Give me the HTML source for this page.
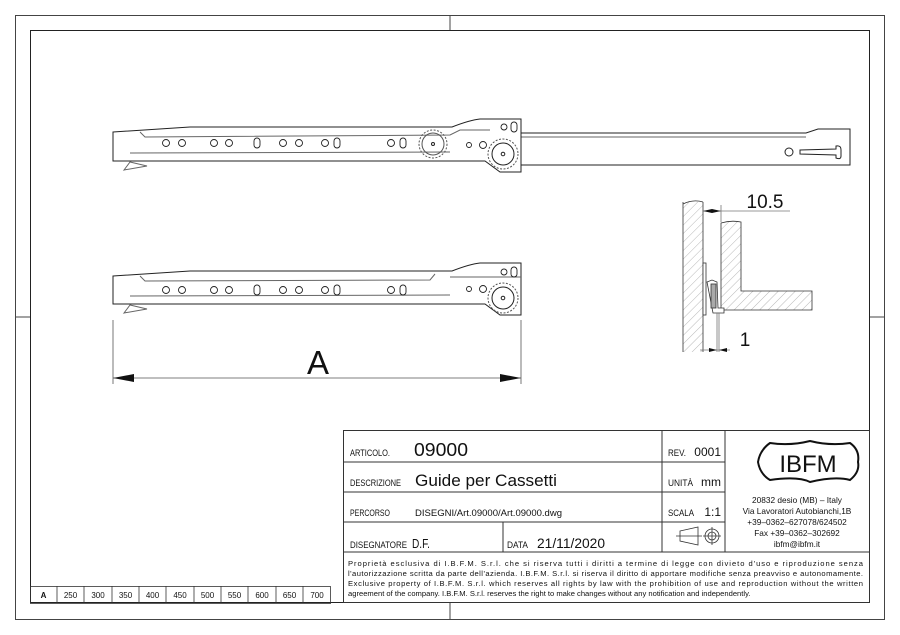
<!DOCTYPE html>
<html><head><meta charset="utf-8"><style>
html,body{margin:0;padding:0;background:#fff;}
svg{display:block;}
text{font-family:"Liberation Sans",sans-serif;fill:#111;}
</style></head><body>
<svg width="900" height="635" viewBox="0 0 900 635" xmlns="http://www.w3.org/2000/svg">
<defs>
<pattern id="h" width="6" height="6" patternUnits="userSpaceOnUse" patternTransform="rotate(45)">
<line x1="0" y1="0" x2="0" y2="6" stroke="#888" stroke-width="0.6"/>
</pattern>
</defs>
<g fill="none" stroke="#444" stroke-width="1">
<rect x="15.5" y="15.5" width="869" height="604"/>
<rect x="30.5" y="30.5" width="839" height="572" stroke="#222"/>
<line x1="450" y1="15" x2="450" y2="30"/><line x1="450" y1="603" x2="450" y2="620"/>
<line x1="15" y1="317" x2="30" y2="317"/><line x1="870" y1="317" x2="885" y2="317"/>
</g>

<!-- upper rail -->
<g fill="none" stroke="#222" stroke-width="1">
<path d="M521,133 L806,133 L818,129 L850,129 L850,165 L521,165" fill="#fff"/>
<line x1="521" y1="137" x2="806" y2="137" stroke="#666"/>
<circle cx="789" cy="152" r="4"/>
<path d="M800,150 L836,149 L836,146 Q841,145 841,150 L841,156 Q841,160 836,158 L836,155 L800,154 Z"/>
<path d="M113,132 L190,127 L452,127 Q470,120 480,119 L521,119 L521,172 L500,172 L485,161 L113,161 Z" fill="#fff"/>
<path d="M140,132 L145,137 L450,135 L460,130 L490,130" stroke="#666"/>
<path d="M130,162 L147,166 L124,170 Z" stroke="#666"/>
<line x1="130" y1="153" x2="450" y2="152" stroke="#666"/>
<g stroke-width="0.9">
<circle cx="166" cy="143" r="3.5"/><circle cx="182" cy="143" r="3.5"/>
<circle cx="214" cy="143" r="3.5"/><circle cx="229" cy="143" r="3.5"/>
<rect x="254" y="138" width="6" height="10" rx="3"/>
<circle cx="283" cy="143" r="3.5"/><circle cx="299" cy="143" r="3.5"/>
<circle cx="325" cy="143" r="3.5"/><rect x="334" y="138" width="6" height="10" rx="3"/>
<circle cx="391" cy="143" r="3.5"/><rect x="400" y="138" width="6" height="10" rx="3"/>
<circle cx="469" cy="145" r="2.5"/><circle cx="483" cy="145" r="3.5"/>
<circle cx="504" cy="127" r="3"/><rect x="511" y="122" width="6" height="10" rx="3"/>
</g>
<circle cx="433" cy="144" r="14" stroke="#555" stroke-dasharray="2 1.5"/>
<circle cx="433" cy="144" r="11" stroke="#555"/>
<circle cx="433" cy="144" r="1.5"/>
<circle cx="503" cy="154" r="15" stroke="#555" stroke-dasharray="2 1.5" fill="#fff"/>
<circle cx="503" cy="154" r="11"/>
<circle cx="503" cy="154" r="1.8"/>
</g>

<!-- lower rail -->
<g fill="none" stroke="#222" stroke-width="1">
<path d="M113,276 L190,271 L452,271 Q470,264 480,263 L521,263 L521,315 L500,315 L485,304 L113,304 Z" fill="#fff"/>
<path d="M140,276 L145,281 L430,280 L435,274" stroke="#666"/>
<line x1="450" y1="277" x2="521" y2="277" stroke="#666"/>
<path d="M130,305 L147,309 L124,313 Z" stroke="#666"/>
<line x1="130" y1="296" x2="450" y2="295" stroke="#666"/>
<g stroke-width="0.9">
<circle cx="166" cy="290" r="3.5"/><circle cx="182" cy="290" r="3.5"/>
<circle cx="214" cy="290" r="3.5"/><circle cx="229" cy="290" r="3.5"/>
<rect x="254" y="285" width="6" height="10" rx="3"/>
<circle cx="283" cy="290" r="3.5"/><circle cx="299" cy="290" r="3.5"/>
<circle cx="325" cy="290" r="3.5"/><rect x="334" y="285" width="6" height="10" rx="3"/>
<circle cx="391" cy="290" r="3.5"/><rect x="400" y="285" width="6" height="10" rx="3"/>
<circle cx="469" cy="289" r="2.5"/><circle cx="483" cy="289" r="3.5"/>
<circle cx="504" cy="272" r="3"/><rect x="511" y="267" width="6" height="10" rx="3"/>
</g>
<circle cx="503" cy="298" r="15" stroke="#555" stroke-dasharray="2 1.5" fill="#fff"/>
<circle cx="503" cy="298" r="11"/>
<circle cx="503" cy="298" r="1.8"/>
</g>

<!-- dimension A -->
<g stroke="#555" stroke-width="0.8">
<line x1="113" y1="320" x2="113" y2="384"/><line x1="521" y1="320" x2="521" y2="384"/>
<line x1="113" y1="378" x2="521" y2="378"/>
</g>
<path d="M113,378 L134,374 L134,382 Z" fill="#111"/>
<path d="M521,378 L500,374 L500,382 Z" fill="#111"/>
<text x="318" y="374" font-size="33" text-anchor="middle">A</text>

<!-- section view -->
<g stroke="#333" stroke-width="0.8">
<rect x="683" y="202" width="20" height="150" fill="url(#h)" stroke="none"/>
<line x1="683" y1="202" x2="683" y2="352"/><line x1="703" y1="202" x2="703" y2="352"/>
<path d="M683,204 Q693,199 703,202" fill="none"/>
<path d="M721,310 L721,223 Q731,220 741,222 L741,291 L812,291 L812,310 Z" fill="url(#h)"/>
<rect x="703" y="263" width="3" height="52" fill="#fff"/>
<path d="M707,282 L712,280 L717,282 L718,308 L724,308 L724,313 L713,313 Z" fill="#fff"/>
<rect x="711" y="284" width="5" height="24" fill="#aaa"/>
<line x1="717" y1="313" x2="717" y2="352" stroke="#777"/>
<line x1="719" y1="313" x2="719" y2="352" stroke="#777"/>
<line x1="703" y1="211" x2="790" y2="211" stroke="#777"/>
<line x1="721" y1="205" x2="721" y2="222" stroke="#777"/>
<line x1="700" y1="350" x2="730" y2="350" stroke="#777"/>
</g>
<path d="M703,211 L712,209 L712,213 Z M721,211 L712,209 L712,213 Z" fill="#111"/>
<path d="M717,350 L709,348 L709,352 Z M719,350 L727,348 L727,352 Z" fill="#111"/>
<text x="765" y="208" font-size="19" text-anchor="middle">10.5</text>
<text x="745" y="346" font-size="19" text-anchor="middle">1</text>

<!-- title block -->
<g fill="none" stroke="#333" stroke-width="1">
<rect x="343.5" y="430.5" width="526" height="172"/>
<line x1="343" y1="462" x2="725" y2="462"/>
<line x1="343" y1="492" x2="725" y2="492"/>
<line x1="343" y1="522" x2="725" y2="522"/>
<line x1="343" y1="552" x2="870" y2="552"/>
<line x1="662" y1="430" x2="662" y2="552"/>
<line x1="725" y1="430" x2="725" y2="552"/>
<line x1="503" y1="522" x2="503" y2="552"/>
</g>
<g fill="#222">
<text x="350" y="456" font-size="9" textLength="40" lengthAdjust="spacingAndGlyphs">ARTICOLO.</text>
<text x="414" y="456" font-size="18" textLength="54" lengthAdjust="spacingAndGlyphs">09000</text>
<text x="350" y="486" font-size="9" textLength="51" lengthAdjust="spacingAndGlyphs">DESCRIZIONE</text>
<text x="415" y="486" font-size="17" textLength="142" lengthAdjust="spacingAndGlyphs">Guide per Cassetti</text>
<text x="350" y="516" font-size="9" textLength="40" lengthAdjust="spacingAndGlyphs">PERCORSO</text>
<text x="415" y="516" font-size="9.5" textLength="147" lengthAdjust="spacingAndGlyphs">DISEGNI/Art.09000/Art.09000.dwg</text>
<text x="350" y="548" font-size="9" textLength="57" lengthAdjust="spacingAndGlyphs">DISEGNATORE</text>
<text x="412" y="548" font-size="13" textLength="18" lengthAdjust="spacingAndGlyphs">D.F.</text>
<text x="507" y="548" font-size="9" textLength="21" lengthAdjust="spacingAndGlyphs">DATA</text>
<text x="537" y="548" font-size="14" textLength="68" lengthAdjust="spacingAndGlyphs">21/11/2020</text>
<text x="668" y="456" font-size="9" textLength="18" lengthAdjust="spacingAndGlyphs">REV.</text>
<text x="721" y="456" font-size="12" text-anchor="end">0001</text>
<text x="668" y="486" font-size="9" textLength="25" lengthAdjust="spacingAndGlyphs">UNITÀ</text>
<text x="721" y="486" font-size="12" text-anchor="end">mm</text>
<text x="668" y="516" font-size="9" textLength="26" lengthAdjust="spacingAndGlyphs">SCALA</text>
<text x="721" y="516" font-size="12" text-anchor="end">1:1</text>
</g>
<g fill="none" stroke="#333" stroke-width="0.8">
<path d="M680,531 L698,527 L698,545 L680,541 Z"/>
<line x1="676" y1="536" x2="702" y2="536"/>
<circle cx="712" cy="536" r="7"/><circle cx="712" cy="536" r="4"/>
<line x1="703" y1="536" x2="721" y2="536"/><line x1="712" y1="527" x2="712" y2="545"/>
<path d="M770,443 Q760,450 758,462 Q760,474 770,480 Q798,476 810,482 Q835,476 850,480 Q860,472 858,462 Q860,450 850,443 Q830,446 810,441 Q790,446 770,443 Z" stroke="#111" stroke-width="2"/>
</g>
<text x="808" y="472" font-family="Liberation Serif" font-size="24" text-anchor="middle" fill="#222">IBFM</text>
<g font-size="8.3" text-anchor="middle" fill="#222">
<text x="797" y="503">20832 desio (MB) – Italy</text>
<text x="797" y="514">Via Lavoratori Autobianchi,1B</text>
<text x="797" y="525">+39–0362–627078/624502</text>
<text x="797" y="536">Fax +39–0362–302692</text>
<text x="797" y="547">ibfm@ibfm.it</text>
</g>
<g font-size="7.6" fill="#222">
<text x="348" y="566" textLength="515" lengthAdjust="spacing">Proprietà esclusiva di I.B.F.M. S.r.l. che si riserva tutti i diritti a termine di legge con divieto d'uso e riproduzione senza</text>
<text x="348" y="576" textLength="515" lengthAdjust="spacing">l'autorizzazione scritta da parte dell'azienda. I.B.F.M. S.r.l. si riserva il diritto di apportare modifiche senza preavviso e autonomamente.</text>
<text x="348" y="586" textLength="515" lengthAdjust="spacing">Exclusive property of I.B.F.M. S.r.l. which reserves all rights by law with the prohibition of use and reproduction without the written</text>
<text x="348" y="596">agreement of the company. I.B.F.M. S.r.l. reserves the right to make changes without any notification and independently.</text>
</g>

<!-- A table -->
<g fill="none" stroke="#333" stroke-width="0.8">
<rect x="30.5" y="586.5" width="300" height="17"/>
<line x1="57" y1="586" x2="57" y2="603"/><line x1="84" y1="586" x2="84" y2="603"/>
<line x1="112" y1="586" x2="112" y2="603"/><line x1="139" y1="586" x2="139" y2="603"/>
<line x1="166" y1="586" x2="166" y2="603"/><line x1="194" y1="586" x2="194" y2="603"/>
<line x1="221" y1="586" x2="221" y2="603"/><line x1="248" y1="586" x2="248" y2="603"/>
<line x1="276" y1="586" x2="276" y2="603"/><line x1="303" y1="586" x2="303" y2="603"/>
</g>
<g font-size="8" text-anchor="middle" fill="#111">
<text x="43.5" y="598" font-weight="bold">A</text>
<text x="70.5" y="598">250</text><text x="98" y="598">300</text><text x="125.5" y="598">350</text>
<text x="152.5" y="598">400</text><text x="180" y="598">450</text><text x="207.5" y="598">500</text>
<text x="234.5" y="598">550</text><text x="262" y="598">600</text><text x="289.5" y="598">650</text>
<text x="317" y="598">700</text>
</g>
</svg>
</body></html>
